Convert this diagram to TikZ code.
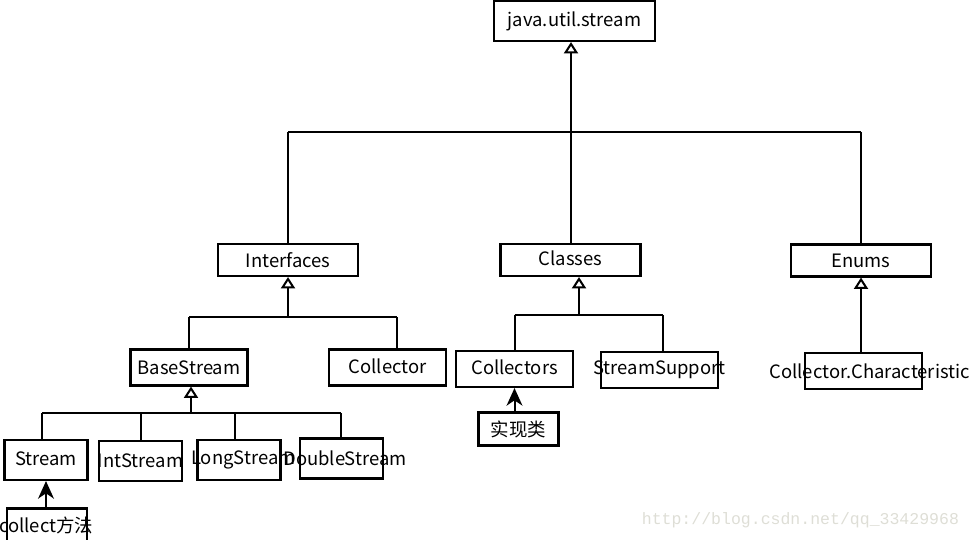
\documentclass[tikz,border=0pt]{standalone}
\usepackage{fontspec}
\setmainfont{Noto Sans CJK SC}
\newfontfamily\markfont{Liberation Mono}
\usepackage{xcolor}
\usetikzlibrary{arrows.meta}
\definecolor{markgray}{RGB}{222,222,214}
\newcommand{\overtext}[1]{\makebox[0pt]{#1}}

\begin{document}
\begin{tikzpicture}[x=0.02cm, y=-0.02cm, line width=1.15pt,
    box/.style={draw, line width=1.2pt, inner sep=0pt, font=\fontsize{10.5}{12}\selectfont},
    topbox/.style={box, minimum width=3.22cm, minimum height=0.8cm},
    groupbox/.style={box, minimum width=2.8cm, minimum height=0.64cm},
    typebox/.style={box, minimum width=2.34cm, minimum height=0.72cm},
    streambox/.style={box, minimum width=1.66cm, minimum height=0.8cm},
    notebox/.style={box, minimum width=1.6cm, minimum height=0.66cm},
    inherit/.style={-{Triangle[open, width=8pt, length=6.5pt]}},
    implement/.style={-{Stealth[width=9pt, length=10pt, inset=3pt]}}]
    \useasboundingbox (0,0) rectangle (972,540);

    % Package
    \node[topbox] (root) at (574.5,21) {java.util.stream};

    % Groups
    \node[groupbox] (ifc) at (288,260) {Interfaces};
    \node[groupbox] (cls) at (570.5,260) {\raisebox{2pt}{Classes}};
    \node[groupbox] (enm) at (861,260.5) {Enums};

    % Types
    \node[typebox] (base) at (189,367.5) {BaseStream};
    \node[typebox] (coll) at (387.5,367.5) {\raisebox{2pt}{Collector}};
    \node[typebox] (colls) at (514.5,369) {\raisebox{2pt}{Collectors}};
    \node[typebox] (sup) at (659.5,370) {\overtext{StreamSupport}};
    \node[typebox] (chr) at (863.5,371) {\overtext{\hspace*{7pt}Collector.Characteristic}};

    % Streams
    \node[streambox] (strm) at (46,460) {\raisebox{2pt}{Stream}};
    \node[streambox] (ints) at (140.5,461) {\overtext{IntStream}};
    \node[streambox] (longs) at (239,460) {\overtext{\hspace*{5pt}LongStream}};
    \node[streambox] (dbls) at (341.5,458.5) {\overtext{\hspace*{4pt}DoubleStream}};

    % Notes
    \node[notebox] (cm) at (47,525) {\overtext{\hspace*{-1pt}collect方法}};
    \node[notebox] (impl) at (518.5,429) {实现类};

    % Package level
    \coordinate (top) at (571,132);
    \draw (ifc.north |- top) -- (enm.north |- top);
    \draw[inherit] (top) -- (top |- root.south);
    \draw (ifc.north |- top) -- (ifc.north);
    \draw (top) -- (top |- cls.north);
    \draw (enm.north |- top) -- (enm.north);

    % Interfaces
    \coordinate (ifcj) at (288,317);
    \coordinate (collj) at (397,317);
    \draw (base.north |- ifcj) -- (collj);
    \draw[inherit] (ifcj) -- (ifc.south);
    \draw (base.north |- ifcj) -- (base.north);
    \draw (collj) -- (collj |- coll.north);

    % Classes
    \coordinate (clsj) at (579,315);
    \coordinate (supj) at (663,315);
    \draw (colls.north |- clsj) -- (supj);
    \draw[inherit] (clsj) -- (clsj |- cls.south);
    \draw (colls.north |- clsj) -- (colls.north);
    \draw (supj) -- (supj |- sup.north);

    % Enums
    \draw[inherit] (enm.south |- chr.north) -- (enm.south);

    % BaseStream
    \coordinate (basej) at (191,413);
    \draw (42,413) -- (341,413);
    \draw[inherit] (basej) -- (basej |- base.south);
    \foreach \n/\x in {strm/42, ints/141, longs/235, dbls/341}
        \draw (\x,413) -- (\x,413 |- \n.north);

    % Implementations
    \draw[implement] (strm.south |- cm.north) -- (strm.south);
    \draw[implement] (colls.south |- impl.north) -- (colls.south);

    % Watermark
    \node[font=\markfont\fontsize{9.4}{10}\selectfont, text=markgray, anchor=east, inner sep=0pt] (mark) at (960,520) {http://blog.csdn.net/qq\_33429968};
\end{tikzpicture}
\end{document}
